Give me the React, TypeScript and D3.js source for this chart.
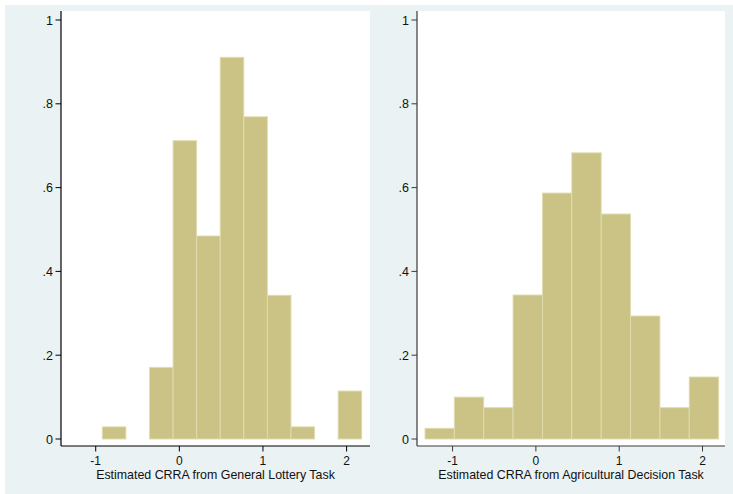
import React from "react";
import * as d3 from "d3";

// Left panel: General Lottery Task
const leftEdges = [-0.921, -0.639, -0.357, -0.075, 0.207, 0.489, 0.771, 1.053, 1.335, 1.617, 1.899, 2.181];
const leftDensity = [0.029, 0, 0.171, 0.712, 0.4845, 0.911, 0.769, 0.343, 0.029, 0, 0.1145];
const leftTitle = "Estimated CRRA from General Lottery Task";

// Right panel: Agricultural Decision Task
const rightEdges = [-1.331, -0.979, -0.626, -0.274, 0.079, 0.431, 0.784, 1.136, 1.489, 1.841, 2.194];
const rightDensity = [0.0255, 0.1, 0.0748, 0.3437, 0.587, 0.683, 0.537, 0.2935, 0.0748, 0.148];
const rightTitle = "Estimated CRRA from Agricultural Decision Task";

const yTicks = [0, 0.2, 0.4, 0.6, 0.8, 1];
const xTicks = [-1, 0, 1, 2];

const W = 733;
const H = 494;
const FONT = "'Liberation Sans', Arial, sans-serif";

const fmtY = (v: number) => (v === 0 ? "0" : v === 1 ? "1" : d3.format(".1f")(v).replace(/^0/, ""));

type PanelProps = {
  edges: number[];
  density: number[];
  title: string;
  xDomain: [number, number];
  x0: number;
  x1: number;
  axisColor: string;
};

function Panel({ edges, density, title, xDomain, x0, x1, axisColor }: PanelProps) {
  const top = 11;
  const bottom = 446;
  const x = d3.scaleLinear().domain(xDomain).range([x0, x1]);
  const y = d3.scaleLinear().domain([0, 1]).range([439, 20]);
  const bars = density.map((d, i) => ({ a: edges[i], b: edges[i + 1], d })).filter((b) => b.d > 0);
  return (
    <g>
      <rect x={x0} y={top} width={x1 - x0} height={bottom - top} fill="#ffffff" />
      {bars.map((b, i) => (
        <rect
          key={i}
          x={x(b.a)}
          y={y(b.d)}
          width={x(b.b) - x(b.a)}
          height={y(0) - y(b.d)}
          fill="#cbc385"
          stroke="#e0dcb0"
          strokeWidth={0.9}
        />
      ))}
      {/* y axis */}
      <line x1={x0} x2={x0} y1={top} y2={bottom} stroke={axisColor} strokeWidth={1.2} />
      {yTicks.map((t) => (
        <g key={t}>
          <line x1={x0 - 5.5} x2={x0} y1={y(t)} y2={y(t)} stroke={axisColor} strokeWidth={1} />
          <text x={x0 - 8} y={y(t) + 4.5} textAnchor="end" fontSize={12.5} fontFamily={FONT} fill="#111">
            {fmtY(t)}
          </text>
        </g>
      ))}
      {/* x axis */}
      <line x1={x0} x2={x1} y1={bottom} y2={bottom} stroke={axisColor} strokeWidth={1.2} />
      {xTicks.map((t) => (
        <g key={t}>
          <line x1={x(t)} x2={x(t)} y1={bottom} y2={bottom + 5.5} stroke={axisColor} strokeWidth={1} />
          <text x={x(t)} y={465} textAnchor="middle" fontSize={12} fontFamily={FONT} fill="#111">
            {t}
          </text>
        </g>
      ))}
      <text x={(x0 + x1) / 2} y={478.5} textAnchor="middle" fontSize={12.4} fontFamily={FONT} fill="#111">
        {title}
      </text>
    </g>
  );
}

export default function App() {
  return (
    <svg width={W} height={H} style={{ position: "absolute", left: 0, top: 0, display: "block" }}>
      <rect x={0} y={0} width={W} height={H} fill="#ffffff" />
      <rect x={5} y={5} width={W - 5} height={H - 5} fill="#eaf2f3" />
      <Panel edges={leftEdges} density={leftDensity} title={leftTitle} xDomain={[-1.415, 2.28]} x0={61} x1={370} axisColor="#000" />
      <Panel edges={rightEdges} density={rightDensity} title={rightTitle} xDomain={[-1.427, 2.27]} x0={417} x1={725} axisColor="#3a3a3a" />
    </svg>
  );
}
